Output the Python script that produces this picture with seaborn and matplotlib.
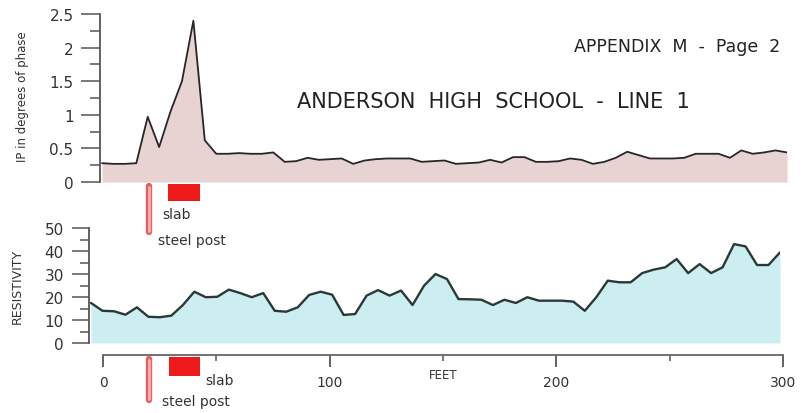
import matplotlib
matplotlib.use("Agg")
import matplotlib.pyplot as plt
import numpy as np
import pandas as pd
import seaborn as sns
from matplotlib.ticker import MultipleLocator
from matplotlib.transforms import blended_transform_factory

# Survey stations along the line (feet)
feet = list(range(0, 301, 5))

# Induced polarization, degrees of phase
ip_phase = [0.28, 0.27, 0.27, 0.28, 0.97, 0.52, 1.05, 1.50, 2.40, 0.62,
            0.42, 0.42, 0.43, 0.42, 0.42, 0.44, 0.30, 0.31, 0.36, 0.33,
            0.34, 0.35, 0.27, 0.32, 0.34, 0.35, 0.35, 0.35, 0.30, 0.31,
            0.32, 0.27, 0.28, 0.29, 0.33, 0.29, 0.37, 0.37, 0.30, 0.30,
            0.31, 0.35, 0.33, 0.27, 0.30, 0.36, 0.45, 0.40, 0.35, 0.35,
            0.35, 0.36, 0.42, 0.42, 0.42, 0.36, 0.47, 0.42, 0.44, 0.47,
            0.44]

# Apparent resistivity
resistivity = [17.4, 14.0, 13.8, 12.3, 15.5, 11.4, 11.2, 11.9, 16.5, 22.3,
               19.9, 20.1, 23.2, 21.7, 19.9, 21.7, 14.0, 13.6, 15.5, 20.9,
               22.3, 21.0, 12.2, 12.6, 20.6, 23.0, 20.6, 22.8, 16.5, 24.9,
               30.0, 27.8, 19.1, 19.0, 18.8, 16.5, 18.8, 17.4, 19.9, 18.4,
               18.4, 18.4, 18.0, 14.0, 19.9, 27.1, 26.4, 26.4, 30.4, 31.9,
               32.9, 36.5, 30.4, 34.3, 30.4, 32.9, 43.0, 42.0, 33.9, 33.9,
               39.4]

# Known buried features along the line (feet)
post_feet = 20.5
slab_feet = (29.0, 43.0)

ip_ticks = [0, 0.5, 1, 1.5, 2, 2.5]
ip_tick_labels = ["0", "0.5", "1", "1.5", "2", "2.5"]
res_ticks = [0, 10, 20, 30, 40, 50]
res_tick_labels = ["0", "10", "20", "30", "40", "50"]
feet_ticks = [0, 100, 200, 300]
feet_tick_labels = ["0", "100", "200", "300"]

df = pd.DataFrame({"feet": feet, "ip": ip_phase, "res": resistivity})

sns.set_style("ticks")
plt.rcParams["font.family"] = ["DejaVu Sans"]

W, H = 803, 414
fig = plt.figure(figsize=(W / 100, H / 100), dpi=100)


def box(left, top, right, bottom):
    return [left / W, 1 - bottom / H, (right - left) / W, (bottom - top) / H]


def fy(p):
    return 1 - p / H


spine_col = "#555555"
label_col = "#333333"
pink = "#e8d3d3"
cyan = "#cdeef1"
red = "#ee1a1a"

# ---- IP panel ----
ax_ip = fig.add_axes(box(100, 15, 787, 183))
ax_ip.patch.set_visible(False)
ax_ip.fill_between(df["feet"], df["ip"], 0, color=pink, lw=0, zorder=1)
sns.lineplot(data=df, x="feet", y="ip", ax=ax_ip, color="#262626", lw=1.3,
             zorder=2)
ax_ip.set_xlim(-0.9, 300)
ax_ip.set_ylim(0, 2.5)
sns.despine(ax=ax_ip, bottom=True)
ax_ip.set_xticks([])
ax_ip.set_yticks(ip_ticks, ip_tick_labels)
ax_ip.yaxis.set_minor_locator(MultipleLocator(0.25))
ax_ip.tick_params(axis="y", which="major", length=14, width=1.1,
                  color=spine_col, labelsize=11, pad=5, labelcolor=label_col)
ax_ip.tick_params(axis="y", which="minor", length=7, width=1.1,
                  color=spine_col)
ax_ip.spines["left"].set_color(spine_col)
ax_ip.spines["left"].set_linewidth(1.3)
ax_ip.set_xlabel("")
ax_ip.set_ylabel("")

# ---- Resistivity panel ----
ax_res = fig.add_axes(box(89, 229, 780, 344))
ax_res.patch.set_visible(False)
ax_res.fill_between(df["feet"], df["res"], 0, color=cyan, lw=0, zorder=1)
sns.lineplot(data=df, x="feet", y="res", ax=ax_res, color="#2b3838", lw=1.7,
             zorder=2)
ax_res.set_xlim(-0.87, 300)
ax_res.set_ylim(0, 50)
sns.despine(ax=ax_res, bottom=True)
ax_res.set_xticks([])
ax_res.set_yticks(res_ticks, res_tick_labels)
ax_res.yaxis.set_minor_locator(MultipleLocator(5))
ax_res.tick_params(axis="y", which="major", length=12, width=1.1,
                   color=spine_col, labelsize=11, pad=6, labelcolor=label_col)
ax_res.tick_params(axis="y", which="minor", length=6.5, width=1.1,
                   color=spine_col)
ax_res.spines["left"].set_color(spine_col)
ax_res.spines["left"].set_linewidth(1.3)
ax_res.set_xlabel("")
ax_res.set_ylabel("")

# ---- Distance axis ----
ax_ft = fig.add_axes(box(103, 340, 783, 356))
ax_ft.patch.set_visible(False)
ax_ft.set_xlim(0, 300)
ax_ft.set_ylim(0, 1)
for side in ("left", "top", "right"):
    ax_ft.spines[side].set_visible(False)
ax_ft.spines["bottom"].set_color("#666666")
ax_ft.spines["bottom"].set_linewidth(1.3)
ax_ft.set_yticks([])
ax_ft.set_xticks(feet_ticks, feet_tick_labels)
ax_ft.xaxis.set_minor_locator(MultipleLocator(50))
ax_ft.tick_params(axis="x", which="major", length=8.5, width=1.3,
                  color="#555555", labelsize=10, pad=6, labelcolor=label_col)
ax_ft.tick_params(axis="x", which="minor", length=4.5, width=1.1,
                  color="#555555")
ft_tr = blended_transform_factory(ax_ft.transData, fig.transFigure)
ax_ft.text(150, fy(376), "FEET", transform=ft_tr, ha="center", va="center",
           fontsize=8.5, color=label_col)


# ---- Feature markers ----
def draw_features(ax, post_top, post_bot, slab_top, slab_bot,
                  slab_lbl, slab_x, post_lbl, post_x):
    tr = blended_transform_factory(ax.transData, fig.transFigure)
    ax.plot([post_feet, post_feet], [fy(post_top + 2), fy(post_bot - 2)],
            transform=tr, color="#e66060", lw=4.6, solid_capstyle="round",
            clip_on=False, zorder=5)
    ax.plot([post_feet, post_feet], [fy(post_top + 3), fy(post_bot - 3)],
            transform=tr, color="#f6b4b4", lw=2.0, solid_capstyle="round",
            clip_on=False, zorder=6)
    ax.fill_between(list(slab_feet), fy(slab_bot), fy(slab_top),
                    transform=tr, color=red, lw=0, clip_on=False, zorder=5)
    ax.text(slab_x, fy(slab_lbl), "slab", transform=tr, ha="left",
            va="center", fontsize=10, color=label_col, clip_on=False)
    ax.text(post_x, fy(post_lbl), "steel post", transform=tr, ha="left",
            va="center", fontsize=10, color=label_col, clip_on=False)


draw_features(ax_ip, 185, 235, 185, 202, 215, 26.5, 241, 24.5)
draw_features(ax_ft, 358, 403, 358, 377, 381, 45.0, 402, 26.0)

# ---- Titles and axis names ----
fig.text(23 / W, fy(97), "IP in degrees of phase", rotation=90,
         ha="center", va="center", fontsize=8.5, color=label_col)
fig.text(17 / W, fy(286), "RESISTIVITY", rotation=90, ha="center",
         va="center", fontsize=9, color=label_col)
fig.text(493 / W, fy(102), "ANDERSON  HIGH  SCHOOL  -  LINE  1",
         ha="center", va="center", fontsize=15, color="#222222")
fig.text(780 / W, fy(47), "APPENDIX  M  -  Page  2", ha="right",
         va="center", fontsize=12.5, color="#222222")

fig.savefig("out.png", dpi=100)
